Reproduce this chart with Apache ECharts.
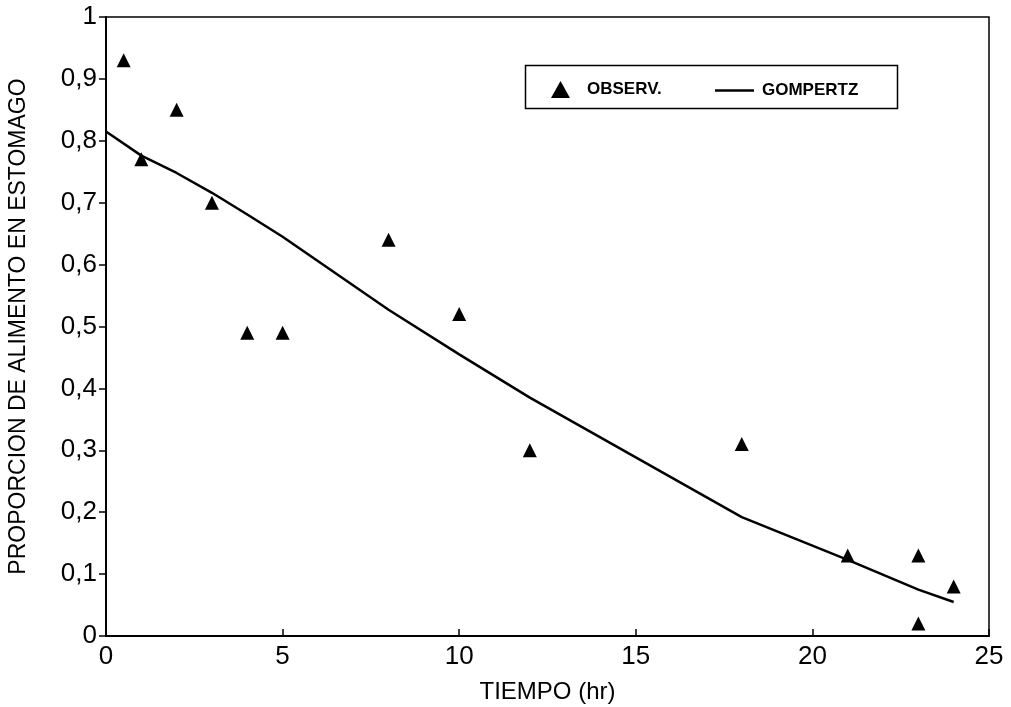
<!DOCTYPE html>
<head>
    <meta charset="utf-8">
    <title>ECharts</title>
</head>
<body style="margin:0;background:#fff">
    <div id="chart" style="width:1011px;height:707px"></div>
    <script src="https://cdn.jsdelivr.net/npm/echarts/dist/echarts.min.js"></script>
    <script>
        // observed points
        var obsTime = [0.5, 1, 2, 3, 4, 5, 8, 10, 12, 18, 21, 23, 23, 24];
        var obsProp = [0.93, 0.77, 0.85, 0.70, 0.49, 0.49, 0.64, 0.52, 0.30, 0.31, 0.13, 0.13, 0.02, 0.08];
        // fitted curve
        var fitTime = [0, 1, 2, 3, 4, 5, 8, 10, 12, 18, 21, 23, 24];
        var fitProp = [0.815, 0.776, 0.748, 0.716, 0.681, 0.645, 0.527, 0.455, 0.385, 0.192, 0.123, 0.075, 0.055];

        var font = 'Liberation Sans, Arial, sans-serif';
        var chart = echarts.init(document.getElementById('chart'));

        var option = {
            animation: false,
            backgroundColor: '#fff',
            grid: {
                left: 106, right: 22, top: 17, bottom: 71,
                outerBoundsMode: 'none',
                containLabel: false,
                show: true, borderColor: '#000', borderWidth: 1.5
            },
            graphic: [{
                type: 'rect',
                left: 523, top: 63,
                shape: { width: 372, height: 43 },
                style: { fill: 'none', stroke: '#000', lineWidth: 1.5 }
            }],
            legend: [{
                data: [{ name: 'OBSERV.', icon: 'triangle' }],
                left: 546, top: 76,
                itemWidth: 19, itemHeight: 17,
                textStyle: { fontFamily: font, fontSize: 17, fontWeight: 'bold', color: '#000', padding: [0, 0, 0, 12] }
            }, {
                data: [{ name: 'GOMPERTZ', icon: 'rect' }],
                left: 710, top: 77,
                itemWidth: 39, itemHeight: 2.5,
                textStyle: { fontFamily: font, fontSize: 17, fontWeight: 'bold', color: '#000', padding: [0, 0, 0, 3] }
            }],
            xAxis: {
                type: 'value', min: 0, max: 25, interval: 5,
                name: 'TIEMPO (hr)', nameLocation: 'middle', nameGap: 44,
                nameTextStyle: { fontFamily: font, fontSize: 24, color: '#000' },
                axisLine: { lineStyle: { color: '#000', width: 2 } },
                axisTick: { inside: true, length: 7, lineStyle: { color: '#000', width: 1.5 } },
                axisLabel: { fontFamily: font, fontSize: 26, color: '#000', margin: 8 },
                splitLine: { show: false }
            },
            yAxis: {
                type: 'value', min: 0, max: 1, interval: 0.1,
                name: 'PROPORCION DE ALIMENTO EN ESTOMAGO', nameLocation: 'middle', nameGap: 76,
                nameTextStyle: { fontFamily: font, fontSize: 23, color: '#000' },
                axisLine: { lineStyle: { color: '#000', width: 2 } },
                axisTick: { length: 7, lineStyle: { color: '#000', width: 1.5 } },
                axisLabel: {
                    fontFamily: font, fontSize: 26, color: '#000', margin: 9,
                    formatter: function (v) { return String(Math.round(v * 10) / 10).replace('.', ','); }
                },
                splitLine: { show: false }
            },
            series: [{
                name: 'OBSERV.',
                type: 'scatter',
                symbol: 'triangle',
                symbolSize: 14,
                itemStyle: { color: '#000', opacity: 1 },
                data: obsTime.map(function (t, i) { return [t, obsProp[i]]; })
            }, {
                name: 'GOMPERTZ',
                type: 'line',
                symbol: 'none',
                lineStyle: { color: '#000', width: 2.5 },
                itemStyle: { color: '#000' },
                data: fitTime.map(function (t, i) { return [t, fitProp[i]]; })
            }]
        };
        chart.setOption(option);
    </script>
</body>
